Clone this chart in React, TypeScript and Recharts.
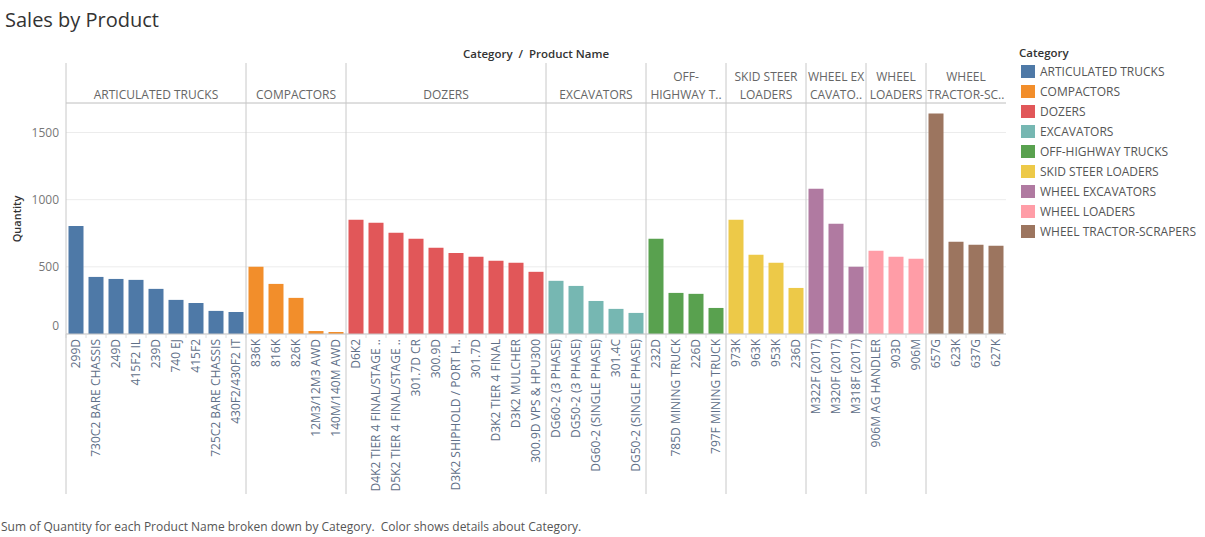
import React from 'react';
import { BarChart, Bar, XAxis, YAxis, CartesianGrid, ReferenceLine, Cell } from 'recharts';

// Category order, colours and the (wrapped / truncated) header text shown above each panel
const categories = [
  'ARTICULATED TRUCKS',
  'COMPACTORS',
  'DOZERS',
  'EXCAVATORS',
  'OFF-HIGHWAY TRUCKS',
  'SKID STEER LOADERS',
  'WHEEL EXCAVATORS',
  'WHEEL LOADERS',
  'WHEEL TRACTOR-SCRAPERS',
];
const categoryColors = ['#4e79a7', '#f28e2b', '#e15759', '#76b7b2', '#59a14f', '#edc948', '#b07aa1', '#ff9da7', '#9c755f'];
const headerLines = [
  ['ARTICULATED TRUCKS'],
  ['COMPACTORS'],
  ['DOZERS'],
  ['EXCAVATORS'],
  ['OFF-', 'HIGHWAY T..'],
  ['SKID STEER', 'LOADERS'],
  ['WHEEL EX', 'CAVATO..'],
  ['WHEEL', 'LOADERS'],
  ['WHEEL', 'TRACTOR-SC..'],
];

// Product names per category (as displayed)
const productNames = [
  ['299D', '730C2 BARE CHASSIS', '249D', '415F2 IL', '239D', '740 EJ', '415F2', '725C2 BARE CHASSIS', '430F2/430F2 IT'],
  ['836K', '816K', '826K', '12M3/12M3 AWD', '140M/140M AWD'],
  ['D6K2', 'D4K2 TIER 4 FINAL/STAGE ..', 'D5K2 TIER 4 FINAL/STAGE ..', '301.7D CR', '300.9D', 'D3K2 SHIPHOLD / PORT H..', '301.7D', 'D3K2 TIER 4 FINAL', 'D3K2 MULCHER', '300.9D VPS & HPU300'],
  ['DG60-2 (3 PHASE)', 'DG50-2 (3 PHASE)', 'DG60-2 (SINGLE PHASE)', '301.4C', 'DG50-2 (SINGLE PHASE)'],
  ['232D', '785D MINING TRUCK', '226D', '797F MINING TRUCK'],
  ['973K', '963K', '953K', '236D'],
  ['M322F (2017)', 'M320F (2017)', 'M318F (2017)'],
  ['906M AG HANDLER', '903D', '906M'],
  ['657G', '623K', '637G', '627K'],
];

// Sum of quantity per product, same order
const quantities = [
  [805, 425, 410, 403, 336, 254, 231, 172, 164],
  [500, 373, 269, 22, 15],
  [851, 828, 754, 709, 642, 604, 575, 545, 530, 463],
  [396, 358, 246, 187, 157],
  [709, 306, 299, 194],
  [851, 590, 530, 343],
  [1082, 821, 500],
  [619, 575, 560],
  [1642, 687, 664, 657],
];

const yTicks = [0, 500, 1000, 1500];
const Y_MAX = 1720;

const FONT = '"Open Sans", "Noto Sans", sans-serif';

// layout
const W = 1205;
const H = 537;
const PLOT_LEFT = 66;
const PLOT_RIGHT = 1006;
const PLOT_TOP = 103;
const PLOT_BOTTOM = 334;
const SEP_TOP = 63;
const SEP_BOTTOM = 494;

const data = categories.flatMap((cat, ci) =>
  productNames[ci].map((name, pi) => ({
    name,
    qty: quantities[ci][pi],
    cat: ci,
    first: pi === 0,
    count: productNames[ci].length,
  }))
);

const BAND = (PLOT_RIGHT - PLOT_LEFT) / data.length;

const ProductTick = (props: any) => {
  const { x, index, payload } = props;
  const d = data[index];
  if (!d) return null;
  const left = x - BAND / 2;
  const lines = headerLines[d.cat];
  const cx = left + (d.count * BAND) / 2;
  return (
    <g>
      <line x1={left} x2={left} y1={PLOT_BOTTOM} y2={PLOT_BOTTOM + 4} stroke="#dedede" />
      {d.first && (
        <>
          <line x1={left} x2={left} y1={SEP_TOP} y2={SEP_BOTTOM} stroke="#c8c8c8" />
          {lines.map((t, i) => (
            <text
              key={i}
              x={cx}
              y={PLOT_TOP - 8 - (lines.length - 1 - i) * 18}
              dy="0.35em"
              textAnchor="middle"
              fontSize={12}
              fill="#666"
              fontFamily={FONT}
            >
              {t}
            </text>
          ))}
        </>
      )}
      <text
        transform={`translate(${x},${PLOT_BOTTOM + 5}) rotate(-90)`}
        dy="0.35em"
        textAnchor="end"
        fontSize={12}
        fill="#5f7088"
        fontFamily={FONT}
      >
        {payload.value}
      </text>
    </g>
  );
};

const QtyTick = (props: any) => {
  const { y, payload } = props;
  return (
    <text
      x={PLOT_LEFT - 7}
      y={payload.value === 0 ? y - 8 : y}
      dy="0.35em"
      textAnchor="end"
      fontSize={12}
      fill="#777"
      fontFamily={FONT}
    >
      {payload.value}
    </text>
  );
};

export default function App() {
  return (
    <div style={{ position: 'absolute', top: 0, left: 0, width: W, height: H, fontFamily: FONT, background: '#fff' }}>
      <div style={{ position: 'absolute', left: 5, top: 6, fontSize: 20, color: '#333', whiteSpace: 'nowrap' }}>
        Sales by Product
      </div>
      <div
        style={{
          position: 'absolute',
          left: PLOT_LEFT,
          width: PLOT_RIGHT - PLOT_LEFT,
          top: 46,
          textAlign: 'center',
          fontSize: 11.5,
          fontWeight: 600,
          color: '#333',
        }}
      >
        Category&nbsp;&nbsp;/&nbsp;&nbsp;Product Name
      </div>
      <div
        style={{
          position: 'absolute',
          left: 16,
          top: (PLOT_TOP + PLOT_BOTTOM) / 2,
          transform: 'translate(-50%, -50%) rotate(-90deg)',
          fontSize: 11,
          fontWeight: 600,
          color: '#333',
          whiteSpace: 'nowrap',
        }}
      >
        Quantity
      </div>

      <BarChart
        width={W}
        height={H}
        data={data}
        margin={{ top: PLOT_TOP, right: W - PLOT_RIGHT, bottom: 0, left: 0 }}
        barCategoryGap="12.5%"
      >
        <CartesianGrid horizontal vertical={false} stroke="#ececec" />
        <XAxis
          dataKey="name"
          interval={0}
          height={H - PLOT_BOTTOM}
          tickLine={false}
          axisLine={{ stroke: '#c8c8c8' }}
          tick={<ProductTick />}
        />
        <YAxis
          width={PLOT_LEFT}
          domain={[0, Y_MAX]}
          ticks={yTicks}
          tickLine={false}
          axisLine={false}
          tick={<QtyTick />}
        />
        <ReferenceLine y={Y_MAX} stroke="#c8c8c8" />
        <Bar dataKey="qty" isAnimationActive={false}>
          {data.map((d, i) => (
            <Cell key={i} fill={categoryColors[d.cat]} />
          ))}
        </Bar>
      </BarChart>

      <div style={{ position: 'absolute', left: 1019, top: 45 }}>
        <div style={{ fontSize: 11.5, fontWeight: 600, color: '#333', height: 16 }}>Category</div>
        {categories.map((c, i) => (
          <div key={c} style={{ display: 'flex', alignItems: 'center', height: 20 }}>
            <span style={{ width: 14, height: 13, background: categoryColors[i], marginLeft: 2, marginRight: 5 }} />
            <span style={{ fontSize: 12, color: '#555', whiteSpace: 'nowrap' }}>{c}</span>
          </div>
        ))}
      </div>

      <div style={{ position: 'absolute', left: 1, top: 518, fontSize: 12, color: '#555', whiteSpace: 'pre' }}>
        {'Sum of Quantity for each Product Name broken down by Category.  Color shows details about Category.'}
      </div>
    </div>
  );
}
